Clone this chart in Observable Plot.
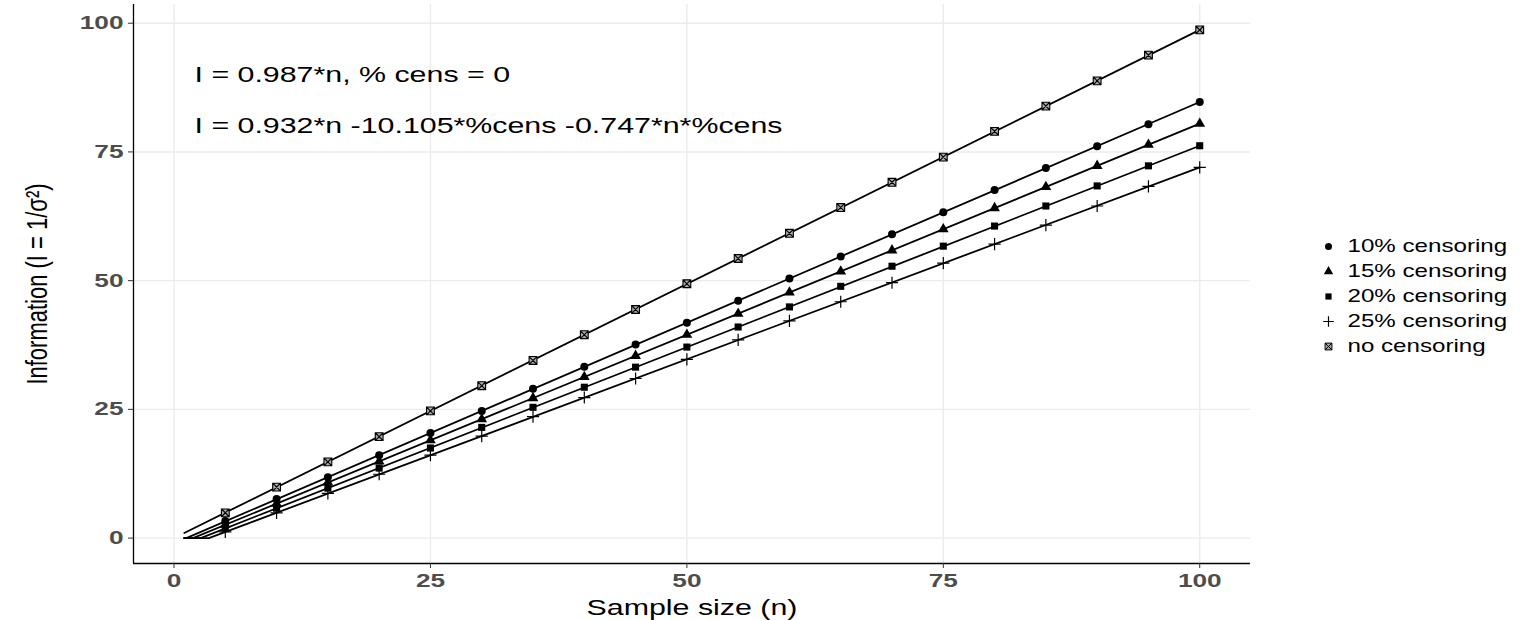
<!DOCTYPE html>
<html>
<head>
<meta charset="utf-8">
<script src="https://cdn.jsdelivr.net/npm/d3@7"></script>
<script src="https://cdn.jsdelivr.net/npm/@observablehq/plot@0.6"></script>
<style>
  body { margin: 0; background: #fff; }
  #wrap { position: relative; width: 1521px; height: 620px; overflow: hidden; }
  #legend { position: absolute; left: 1310px; top: 235px; }
  .tick-lbl text { font-family: "Liberation Sans", Arial, sans-serif; font-weight: bold; font-size: 19px; fill: #4d4d4d; }
  .annot text { font-family: "Liberation Sans", Arial, sans-serif; font-size: 22px; fill: #000; }
  .xtitle text { font-family: "Liberation Sans", Arial, sans-serif; font-size: 22px; fill: #000; }
  .ytitle text { font-family: "Liberation Sans", Arial, sans-serif; font-size: 22px; fill: #000; }
  .leg-lbl text { font-family: "Liberation Sans", Arial, sans-serif; font-size: 17.5px; fill: #000; }
</style>
</head>
<body>
<div id="wrap"><div id="chart"></div><div id="legend"></div></div>
<script>
// ---- data ----
const categories = ["10% censoring", "15% censoring", "20% censoring", "25% censoring", "no censoring"];
const sampleSizes = [5, 10, 15, 20, 25, 30, 35, 40, 45, 50, 55, 60, 65, 70, 75, 80, 85, 90, 95, 100];
const cens10 = [3.3, 7.6, 11.8, 16.1, 20.4, 24.7, 29.0, 33.3, 37.6, 41.8, 46.1, 50.4, 54.7, 59.0, 63.3, 67.6, 71.9, 76.1, 80.4, 84.7];
const cens15 = [2.6, 6.7, 10.8, 14.9, 19.0, 23.1, 27.2, 31.3, 35.4, 39.5, 43.6, 47.7, 51.8, 55.9, 60.0, 64.1, 68.2, 72.3, 76.4, 80.5];
const cens20 = [1.9, 5.8, 9.7, 13.6, 17.5, 21.5, 25.4, 29.3, 33.2, 37.1, 41.0, 44.9, 48.9, 52.8, 56.7, 60.6, 64.5, 68.4, 72.3, 76.2];
const cens25 = [1.2, 4.9, 8.7, 12.4, 16.1, 19.8, 23.6, 27.3, 31.0, 34.7, 38.5, 42.2, 45.9, 49.6, 53.4, 57.1, 60.8, 64.5, 68.3, 72.0];
const noCens = [4.9, 9.9, 14.8, 19.7, 24.7, 29.6, 34.5, 39.5, 44.4, 49.4, 54.3, 59.2, 64.2, 69.1, 74.0, 79.0, 83.9, 88.8, 93.8, 98.7];
// fitted-curve vertices [n, I]
const fit10 = [[1, 0], [1.2, 0], [100, 84.7]];
const fit15 = [[1, 0], [1.85, 0], [100, 80.5]];
const fit20 = [[1, 0], [2.6, 0], [100, 76.2]];
const fit25 = [[1, 0], [3.4, 0], [100, 72.0]];
const fitNo = [[1, 1.0], [100, 98.7]];
const xTicks = [0, 25, 50, 75, 100];
const yTicks = [0, 25, 50, 75, 100];
const xDomain = [-3.95, 104.95];
const yDomain = [-4.935, 103.635];
const annotations = ["I = 0.987*n, % cens = 0", "I = 0.932*n -10.105*%cens -0.747*n*%cens"];
const annotN = [2, 2];
const annotI = [90, 80];
const xTitle = "Sample size (n)";
const yTitle = "Information (I = 1/σ²)";

// ---- build tables ----
const seriesValues = [cens10, cens15, cens20, cens25, noCens];
const seriesFits = [fit10, fit15, fit20, fit25, fitNo];
const points = categories.flatMap((g, k) => sampleSizes.map((n, i) => ({n, I: seriesValues[k][i], group: g})));
const lines = categories.flatMap((g, k) => seriesFits[k].map(([n, I]) => ({n, I, group: g})));
const annot = annotations.map((t, i) => ({t, n: annotN[i], I: annotI[i]}));

const boxX = {
  draw(context, size) {
    const h = Math.sqrt(size) * 0.55;
    context.moveTo(-h, -h); context.lineTo(h, -h); context.lineTo(h, h); context.lineTo(-h, h); context.closePath();
    context.moveTo(-h, -h); context.lineTo(h, h);
    context.moveTo(h, -h); context.lineTo(-h, h);
  }
};
const symbolScale = {domain: categories, range: ["circle", "triangle", "square", "plus", boxX]};
const isFilled = d => d.group !== "25% censoring" && d.group !== "no censoring";

// the reference text is drawn wide: stretch glyphs about each text's own anchor
function stretch(root, selector, sx, sy) {
  root.querySelectorAll(selector).forEach(el => {
    let t = el.getAttribute("transform") || "";
    const xa = el.getAttribute("x");
    if (xa !== null && /^-?[\d.]+$/.test(xa) && +xa !== 0) {
      t += ` translate(${+xa},0)`;
      el.removeAttribute("x");
    }
    el.setAttribute("transform", `${t} scale(${sx},${sy})`);
  });
}

const chart = Plot.plot({
  width: 1521,
  height: 620,
  marginLeft: 133,
  marginRight: 271,
  marginTop: 4,
  marginBottom: 57,
  x: {domain: xDomain, axis: null},
  y: {domain: yDomain, axis: null},
  symbol: symbolScale,
  marks: [
    Plot.gridX(xTicks, {stroke: "#ebebeb", strokeOpacity: 1, strokeWidth: 1.4}),
    Plot.gridY(yTicks, {stroke: "#ebebeb", strokeOpacity: 1, strokeWidth: 1.4}),
    Plot.ruleX([xDomain[0]], {stroke: "#000", strokeWidth: 1.3}),
    Plot.ruleY([yDomain[0]], {stroke: "#000", strokeWidth: 1.3}),
    Plot.axisX({ticks: xTicks, tickSize: 5, tickPadding: 5, stroke: "#333", label: null, className: "tick-lbl", tickFormat: d => d}),
    Plot.axisY({ticks: yTicks, tickSize: 5, tickPadding: 5, stroke: "#333", label: null, className: "tick-lbl", tickFormat: d => d}),
    Plot.line(lines, {x: "n", y: "I", z: "group", stroke: "#000", strokeWidth: 1.8}),
    Plot.dot(points.filter(isFilled), {x: "n", y: "I", symbol: "group", fill: "#000", stroke: "none", r: 4}),
    Plot.dot(points.filter(d => d.group === "25% censoring"), {x: "n", y: "I", symbol: "group", fill: "none", stroke: "#000", strokeWidth: 1.2, r: 4}),
    Plot.dot(points.filter(d => d.group === "no censoring"), {x: "n", y: "I", symbol: "group", fill: "#aaa", stroke: "#000", strokeWidth: 1.1, r: 4}),
    Plot.text(annot, {x: "n", y: "I", text: "t", textAnchor: "start", className: "annot"}),
    Plot.text([xTitle], {frameAnchor: "bottom", textAnchor: "middle", lineAnchor: "middle", dy: 44, className: "xtitle"}),
    Plot.text([yTitle], {frameAnchor: "left", textAnchor: "middle", lineAnchor: "middle", dx: -96, rotate: -90, className: "ytitle"})
  ]
});
stretch(chart, ".tick-lbl text, .annot text, .xtitle text", 1.38, 1);
stretch(chart, ".ytitle text", 1, 1.38);
document.getElementById("chart").appendChild(chart);

const legend = Plot.plot({
  width: 211,
  height: 122,
  marginLeft: 18,
  marginRight: 0,
  marginTop: 10,
  marginBottom: 10,
  x: {domain: [0, 1], axis: null},
  y: {type: "point", domain: categories, padding: 0, axis: null},
  symbol: symbolScale,
  marks: [
    Plot.dot(categories.filter(c => c !== "25% censoring" && c !== "no censoring"), {x: () => 0, y: d => d, symbol: d => d, fill: "#000", stroke: "none", r: 3.5}),
    Plot.dot(["25% censoring"], {x: () => 0, y: d => d, symbol: d => d, fill: "none", stroke: "#000", strokeWidth: 1.2, r: 3.5}),
    Plot.dot(["no censoring"], {x: () => 0, y: d => d, symbol: d => d, fill: "#aaa", stroke: "#000", strokeWidth: 1, r: 3.5}),
    Plot.text(categories, {x: () => 0, y: d => d, text: d => d, dx: 19, textAnchor: "start", className: "leg-lbl"})
  ]
});
stretch(legend, ".leg-lbl text", 1.38, 1);
document.getElementById("legend").appendChild(legend);
</script>
</body>
</html>
